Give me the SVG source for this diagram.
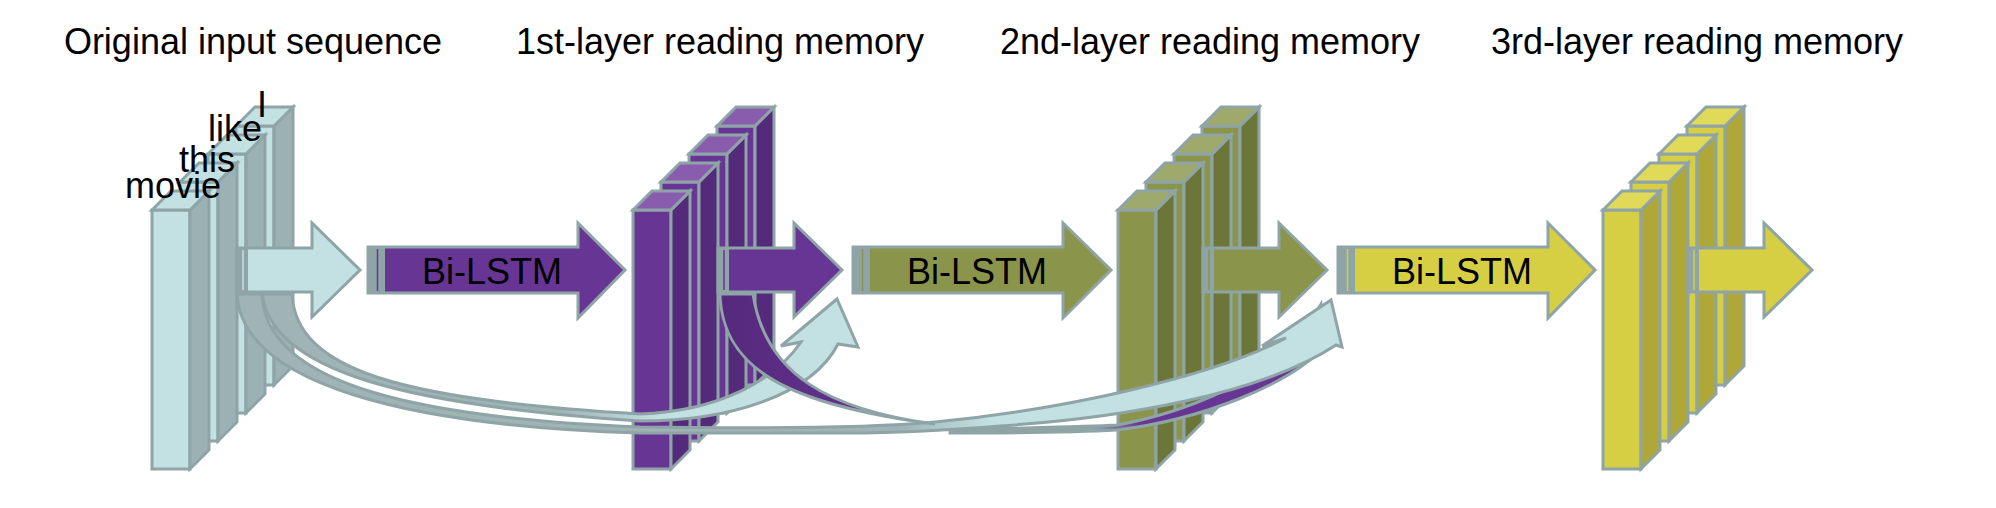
<svg xmlns="http://www.w3.org/2000/svg" width="1996" height="508" viewBox="0 0 1996 508">
<style>
text{font-family:"Liberation Sans",Arial,sans-serif;fill:#000}
.title{font-size:36px;text-anchor:middle}
.word{font-size:36px}
.lbl{font-size:36px;text-anchor:middle}
.st{stroke:#8FA4A6;stroke-width:3;stroke-linejoin:miter}
.f1{fill:#C3E0E2}.d1{fill:#9CB1B3}.t1{fill:#C3E0E2}
.f2{fill:#673695}.d2{fill:#542A7B}.t2{fill:#8A5CAE}
.f3{fill:#8A944A}.d3{fill:#6C7639}.t3{fill:#A0A96C}
.f4{fill:#D6CF44}.d4{fill:#AFA737}.t4{fill:#E0DA58}
.gs{fill:#8FA4A6}
</style>
<defs>
<linearGradient id="gA" gradientUnits="userSpaceOnUse" x1="560" y1="0" x2="660" y2="0"><stop offset="0" stop-color="#A0B4B6"/><stop offset="1" stop-color="#C3E0E2"/></linearGradient>
<linearGradient id="gB" gradientUnits="userSpaceOnUse" x1="900" y1="0" x2="990" y2="0"><stop offset="0" stop-color="#A0B4B6"/><stop offset="1" stop-color="#C3E0E2"/></linearGradient>
<linearGradient id="gC" gradientUnits="userSpaceOnUse" x1="720" y1="0" x2="920" y2="0"><stop offset="0" stop-color="#55297C"/><stop offset="1" stop-color="#673695"/></linearGradient>
<linearGradient id="gC2" gradientUnits="userSpaceOnUse" x1="1095" y1="0" x2="1140" y2="0"><stop offset="0" stop-color="#8FA4A6"/><stop offset="1" stop-color="#673695"/></linearGradient>
</defs>
<rect width="1996" height="508" fill="#fff"/>

<g id="titles">
<text class="title" x="253" y="54">Original input sequence</text>
<text class="title" x="720" y="54">1st-layer reading memory</text>
<text class="title" x="1210" y="54">2nd-layer reading memory</text>
<text class="title" x="1697" y="54">3rd-layer reading memory</text>
</g>

<g id="bilstm1">
<polygon class="st f2" points="368,247 578,247 578,223 625,270 578,318 578,293 368,293"/>
<rect class="gs" x="368" y="247" width="17" height="46"/>
<line x1="377.5" y1="249" x2="377.5" y2="291" stroke="#673695" stroke-width="1.5"/>
<text class="lbl" x="492" y="284">Bi-LSTM</text>
</g>
<g id="bilstm2">
<polygon class="st f3" points="853,247 1063,247 1063,223 1111,270 1063,318 1063,293 853,293"/>
<rect class="gs" x="853" y="247" width="17" height="46"/>
<line x1="862.5" y1="249" x2="862.5" y2="291" stroke="#8A944A" stroke-width="1.5"/>
<text class="lbl" x="977" y="284">Bi-LSTM</text>
</g>
<g id="bilstm3">
<polygon class="st f4" points="1338,247 1548,247 1548,223 1595,270 1548,318 1548,293 1338,293"/>
<rect class="gs" x="1338" y="247" width="17" height="46"/>
<line x1="1347.5" y1="249" x2="1347.5" y2="291" stroke="#D6CF44" stroke-width="1.5"/>
<text class="lbl" x="1462" y="284">Bi-LSTM</text>
</g>

<g id="input">
<g transform="translate(236,126)" class="st"><rect class="f1" width="38" height="259"/><polygon class="d1" points="38,0 57,-19 57,240 38,259"/><polygon class="t1" points="0,0 19,-19 57,-19 38,0"/></g>
<g transform="translate(208,154)" class="st"><rect class="f1" width="38" height="259"/><polygon class="d1" points="38,0 57,-19 57,240 38,259"/><polygon class="t1" points="0,0 19,-19 57,-19 38,0"/></g>
<g transform="translate(180,182)" class="st"><rect class="f1" width="38" height="259"/><polygon class="d1" points="38,0 57,-19 57,240 38,259"/><polygon class="t1" points="0,0 19,-19 57,-19 38,0"/></g>
<g transform="translate(152,210)" class="st"><rect class="f1" width="38" height="259"/><polygon class="d1" points="38,0 57,-19 57,240 38,259"/><polygon class="t1" points="0,0 19,-19 57,-19 38,0"/></g>
<polygon class="st f1" points="237,248 312,248 312,223 360,270 312,317 312,292 237,292"/>
<rect class="gs" x="237" y="248" width="11" height="44"/>
<line x1="243" y1="250" x2="243" y2="290" stroke="#C3E0E2" stroke-width="1.5"/>
<text class="word" x="125" y="198">movie</text>
<text class="word" x="179" y="172">this</text>
<text class="word" x="208" y="141">like</text>
<text class="word" x="257" y="117">I</text>
</g>

<g id="layer1">
<g transform="translate(717,126)" class="st"><rect class="f2" width="38" height="259"/><polygon class="d2" points="38,0 57,-19 57,240 38,259"/><polygon class="t2" points="0,0 19,-19 57,-19 38,0"/></g>
<g transform="translate(689,154)" class="st"><rect class="f2" width="38" height="259"/><polygon class="d2" points="38,0 57,-19 57,240 38,259"/><polygon class="t2" points="0,0 19,-19 57,-19 38,0"/></g>
<g transform="translate(661,182)" class="st"><rect class="f2" width="38" height="259"/><polygon class="d2" points="38,0 57,-19 57,240 38,259"/><polygon class="t2" points="0,0 19,-19 57,-19 38,0"/></g>
<g transform="translate(633,210)" class="st"><rect class="f2" width="38" height="259"/><polygon class="d2" points="38,0 57,-19 57,240 38,259"/><polygon class="t2" points="0,0 19,-19 57,-19 38,0"/></g>
<polygon class="st f2" points="718,248 794,248 794,223 842,270 794,317 794,292 718,292"/>
<rect class="gs" x="718" y="248" width="11" height="44"/>
<line x1="724" y1="250" x2="724" y2="290" stroke="#673695" stroke-width="1.5"/>
</g>

<g id="layer2">
<g transform="translate(1202,126)" class="st"><rect class="f3" width="38" height="259"/><polygon class="d3" points="38,0 57,-19 57,240 38,259"/><polygon class="t3" points="0,0 19,-19 57,-19 38,0"/></g>
<g transform="translate(1174,154)" class="st"><rect class="f3" width="38" height="259"/><polygon class="d3" points="38,0 57,-19 57,240 38,259"/><polygon class="t3" points="0,0 19,-19 57,-19 38,0"/></g>
<g transform="translate(1146,182)" class="st"><rect class="f3" width="38" height="259"/><polygon class="d3" points="38,0 57,-19 57,240 38,259"/><polygon class="t3" points="0,0 19,-19 57,-19 38,0"/></g>
<g transform="translate(1118,210)" class="st"><rect class="f3" width="38" height="259"/><polygon class="d3" points="38,0 57,-19 57,240 38,259"/><polygon class="t3" points="0,0 19,-19 57,-19 38,0"/></g>
<polygon class="st f3" points="1203,248 1279,248 1279,223 1327,270 1279,317 1279,292 1203,292"/>
<rect class="gs" x="1203" y="248" width="11" height="44"/>
<line x1="1209" y1="250" x2="1209" y2="290" stroke="#8A944A" stroke-width="1.5"/>
</g>

<g id="layer3">
<g transform="translate(1687,126)" class="st"><rect class="f4" width="38" height="259"/><polygon class="d4" points="38,0 57,-19 57,240 38,259"/><polygon class="t4" points="0,0 19,-19 57,-19 38,0"/></g>
<g transform="translate(1659,154)" class="st"><rect class="f4" width="38" height="259"/><polygon class="d4" points="38,0 57,-19 57,240 38,259"/><polygon class="t4" points="0,0 19,-19 57,-19 38,0"/></g>
<g transform="translate(1631,182)" class="st"><rect class="f4" width="38" height="259"/><polygon class="d4" points="38,0 57,-19 57,240 38,259"/><polygon class="t4" points="0,0 19,-19 57,-19 38,0"/></g>
<g transform="translate(1603,210)" class="st"><rect class="f4" width="38" height="259"/><polygon class="d4" points="38,0 57,-19 57,240 38,259"/><polygon class="t4" points="0,0 19,-19 57,-19 38,0"/></g>
<polygon class="st f4" points="1688,248 1764,248 1764,223 1812,270 1764,317 1764,292 1688,292"/>
<rect class="gs" x="1688" y="248" width="11" height="44"/>
<line x1="1694" y1="250" x2="1694" y2="290" stroke="#D6CF44" stroke-width="1.5"/>
</g>

<g id="connectors" class="st">
<path id="skip-input-1" fill="url(#gA)" d="M 262,294 L 292,294 C 296,370 400,400 640,414 C 720,411 775,380 801,342 L 781,346 L 837,299 L 858,347 L 838,344 C 812,395 730,421 640,421 C 400,405 272,370 262,294 Z"/>
<path id="skip-1-3b" fill="url(#gC2)" d="M 950,430 C 1010,428 1080,427 1117,425 C 1190,412 1262,378 1300,340 L 1321,304 L 1326,345 C 1290,385 1200,420 1117,430 C 1080,432 1010,433 950,433 Z"/>
<path id="skip-input-2" fill="url(#gB)" d="M 237,294 L 262,294 C 265,385 420,418 640,427 C 780,429 880,427 935,422 C 1060,410 1210,378 1286,338 L 1262,346 L 1331,300 L 1342,347 L 1336,345 C 1260,395 1120,418 1000,426 C 950,430 900,433 850,433 L 640,433 C 410,426 242,385 237,294 Z"/>
<path id="skip-1-3a" fill="url(#gC)" d="M 720,294 L 753,294 C 765,375 830,410 935,424 C 790,405 722,370 720,294 Z"/>
</g>
</svg>
